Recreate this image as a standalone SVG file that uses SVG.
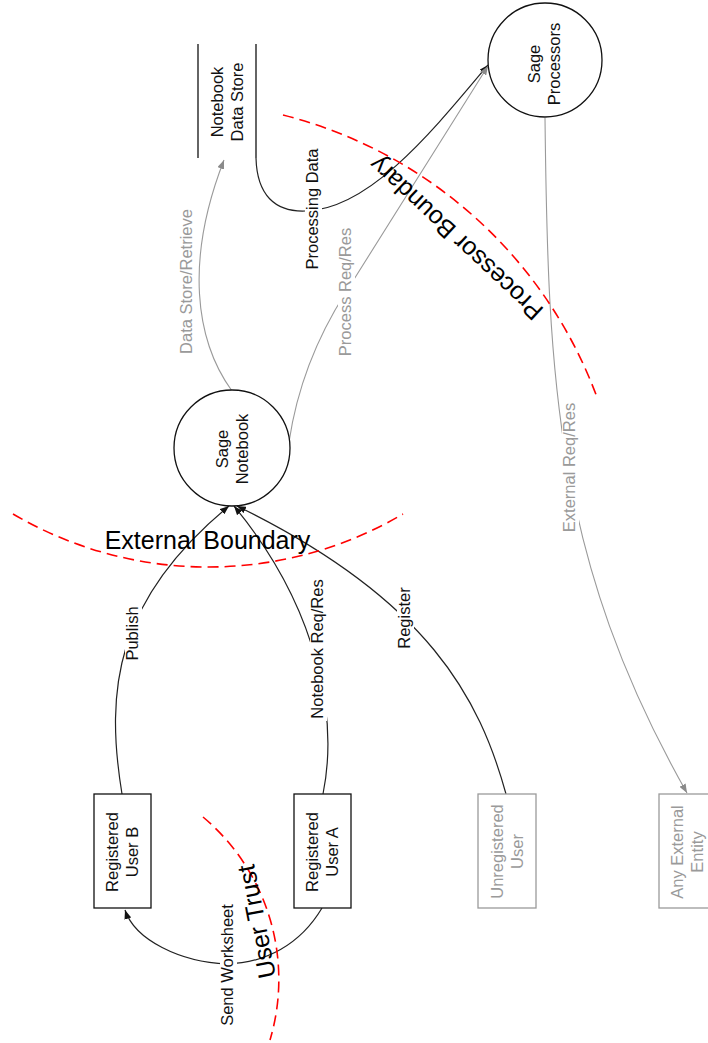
<svg xmlns="http://www.w3.org/2000/svg" width="708" height="1043" viewBox="0 0 708 1043">
<style>
text{font-family:"Liberation Sans",Arial,sans-serif;font-size:16.5px;text-anchor:middle;fill:#111}
.gt{fill:#9a9a9a}
.big{font-size:25px;fill:#000}
.node{fill:#fff;stroke:#111;stroke-width:1.3}
.gnode{fill:#fff;stroke:#9a9a9a;stroke-width:1.3}
.store{stroke:#111;stroke-width:1.3}
.c{fill:none;stroke:#222;stroke-width:1.2;marker-end:url(#ab)}
.cn{fill:none;stroke:#222;stroke-width:1.2}
.cg{fill:none;stroke:#9a9a9a;stroke-width:1.1;marker-end:url(#ag)}
.bd{fill:none;stroke:#ff0000;stroke-width:1.6;stroke-dasharray:11 6}
.bg{fill:#fff}
</style>
<defs>
<marker id="ab" markerUnits="userSpaceOnUse" markerWidth="9" markerHeight="7" refX="9" refY="3.5" orient="auto"><path d="M0,0 L9,3.5 L0,7 z" fill="#111"/></marker>
<marker id="ag" markerUnits="userSpaceOnUse" markerWidth="9" markerHeight="7" refX="9" refY="3.5" orient="auto"><path d="M0,0 L9,3.5 L0,7 z" fill="#8a8a8a"/></marker>
</defs>

<g id="connectors">
<path id="e-publish" class="c" d="M122,794 C105,690 115,600 229,506"/>
<path id="e-nbreq" class="c" d="M323,794 C338,720 320,610 234,506"/>
<path id="e-register" class="c" d="M506,794 C480,700 430,600 237,506"/>
<path id="e-send" class="c" d="M322,908 C300,945 265,963 227,964 C180,962 135,940 125,910"/>
<path id="e-store" class="cg" d="M232,391 C195,340 185,260 224,160"/>
<path id="e-procdata" class="c" d="M256,158 C257,195 275,212 305,211 C370,210 435,128 488,65"/>
<path id="e-procreq" class="cg" d="M289,442 C296,395 312,345 346,292 L488,66"/>
<path id="e-extreq" class="cg" d="M545,118 C548,380 555,560 687,793"/>

<g id="l-publish"><rect class="bg" x="125" y="604" width="17" height="59"/><text transform="translate(138,633.5) rotate(-90)">Publish</text></g>
<g id="l-nbreq"><rect class="bg" x="310" y="578" width="17" height="143"/><text transform="translate(323,649) rotate(-90)">Notebook Req/Res</text></g>
<g id="l-register"><rect class="bg" x="397" y="586" width="17" height="64"/><text transform="translate(410,618) rotate(-90)">Register</text></g>
<g id="l-send"><rect class="bg" x="220" y="903" width="17" height="125"/><text transform="translate(233,965) rotate(-90)">Send Worksheet</text></g>
<g id="l-store"><rect class="bg" x="179" y="208" width="17" height="148"/><text class="gt" transform="translate(192,281.5) rotate(-90)">Data Store/Retrieve</text></g>
<g id="l-procdata"><rect class="bg" x="305" y="147" width="17" height="124"/><text transform="translate(318,209) rotate(-90)">Processing Data</text></g>
<g id="l-procreq"><rect class="bg" x="338" y="226" width="17" height="132"/><text class="gt" transform="translate(351,292) rotate(-90)">Process Req/Res</text></g>
<g id="l-extreq"><rect class="bg" x="562" y="401" width="17" height="133"/><text class="gt" transform="translate(575,467.5) rotate(-90)">External Req/Res</text></g>
</g>

<g id="sage-processors">
<circle class="node" cx="545" cy="60" r="57"/>
<text transform="translate(540,64) rotate(-90)"><tspan x="0" dy="0">Sage</tspan><tspan x="0" dy="20">Processors</tspan></text>
</g>
<g id="sage-notebook">
<circle class="node" cx="232" cy="448" r="58"/>
<text transform="translate(228,449) rotate(-90)"><tspan x="0" dy="0">Sage</tspan><tspan x="0" dy="20">Notebook</tspan></text>
</g>
<g id="notebook-data-store">
<line class="store" x1="198" y1="44" x2="198" y2="158"/>
<line class="store" x1="256" y1="44" x2="256" y2="158"/>
<text transform="translate(223,102) rotate(-90)"><tspan x="0" dy="0">Notebook</tspan><tspan x="0" dy="20">Data Store</tspan></text>
</g>
<g id="registered-user-b">
<rect class="node" x="94" y="794" width="57" height="114"/>
<text transform="translate(118,852) rotate(-90)"><tspan x="0" dy="0">Registered</tspan><tspan x="0" dy="20">User B</tspan></text>
</g>
<g id="registered-user-a">
<rect class="node" x="294" y="794" width="57" height="114"/>
<text transform="translate(318,852) rotate(-90)"><tspan x="0" dy="0">Registered</tspan><tspan x="0" dy="20">User A</tspan></text>
</g>
<g id="unregistered-user">
<rect class="gnode" x="478" y="794" width="58" height="114"/>
<text class="gt" transform="translate(503,851.5) rotate(-90)"><tspan x="0" dy="0">Unregistered</tspan><tspan x="0" dy="20">User</tspan></text>
</g>
<g id="any-external-entity">
<rect class="gnode" x="659" y="794" width="57" height="114"/>
<text class="gt" transform="translate(683,852) rotate(-90)"><tspan x="0" dy="0">Any External</tspan><tspan x="0" dy="20">Entity</tspan></text>
</g>

<g id="boundaries">
<path class="bd" d="M283,115 A453,453 0 0 1 598,400"/>
<path class="bd" d="M13,514 A385,385 0 0 0 403,514"/>
<path class="bd" d="M203,817 A212,212 0 0 1 270,1040"/>
<text class="big" transform="translate(462,232) rotate(223)">Processor Boundary</text>
<text class="big" x="207.5" y="549">External Boundary</text>
<text class="big" transform="translate(265,920) rotate(-101)">User Trust</text>
</g>
</svg>
